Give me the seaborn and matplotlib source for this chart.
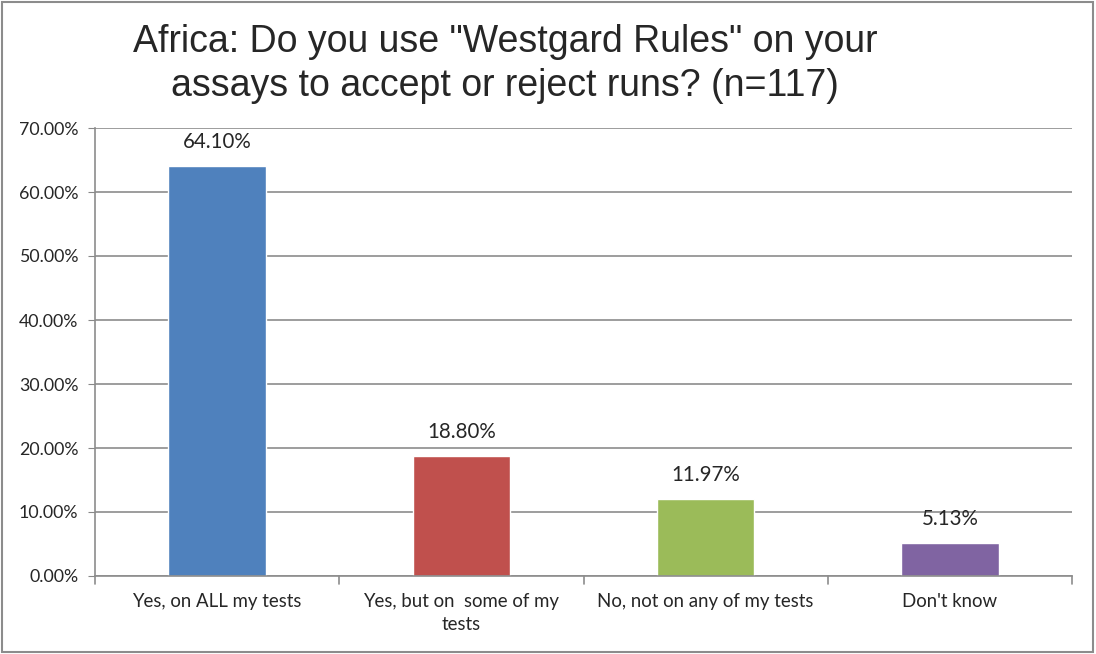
import numpy as np
import pandas as pd
import matplotlib
matplotlib.use("Agg")
import matplotlib.pyplot as plt
import seaborn as sns
from matplotlib.patches import Rectangle

# Dados
categorias = ["Yes, on ALL my tests", "Yes, but on  some of my\ntests",
              "No, not on any of my tests", "Don't know"]
percentuais = [64.10, 18.80, 11.97, 5.13]
cores = ["#4F81BD", "#C0504D", "#9BBB59", "#8064A2"]
ticks_y = [0, 10, 20, 30, 40, 50, 60, 70]

df = pd.DataFrame({"Resposta": categorias, "Percentual": percentuais})

sns.set_style("white")
plt.rcParams["font.family"] = ["Lato", "DejaVu Sans"]

fig = plt.figure(figsize=(10.96, 6.54), dpi=100)
ax = fig.add_axes([95 / 1096, 1 - 576 / 654, (1072 - 95) / 1096, (576 - 128) / 654])

sns.barplot(data=df, x="Resposta", y="Percentual", hue="Resposta", palette=cores,
            width=0.4, legend=False, ax=ax, saturation=1)

ax.set_ylim(0, 70)
ax.set_xlim(-0.5, len(categorias) - 0.5)
ax.set_yticks(ticks_y)
ax.set_yticklabels([f"{v:.2f}%" for v in ticks_y], fontsize=12.8)
ax.set_xticks(range(len(categorias)))
ax.set_xticklabels(categorias, fontsize=13.4, linespacing=1.45)
ax.tick_params(axis="x", length=0, pad=12)
ax.tick_params(axis="y", length=5, color="#888888", direction="out", left=True, pad=7)
ax.set_xlabel("")
ax.set_ylabel("")

# linhas de grade
ax.yaxis.grid(True, color="#8c8c8c", linewidth=1.2)
ax.set_axisbelow(True)
for lado in ["top", "right"]:
    ax.spines[lado].set_visible(False)
for lado in ["left", "bottom"]:
    ax.spines[lado].set_color("#8c8c8c")
    ax.spines[lado].set_linewidth(1.2)

# marcas entre categorias no eixo x
for xb in np.arange(-0.5, len(categorias), 1.0):
    ax.plot([xb, xb], [0, -1.2], color="#8c8c8c", linewidth=1.2, clip_on=False)

# rótulos de dados
for i, v in enumerate(percentuais):
    ax.text(i, v + 2.2, f"{v:.2f}%", ha="center", va="bottom", fontsize=14.8)

fig.text(505 / 1096, 1 - 64 / 654,
         "Africa: Do you use \"Westgard Rules\" on your\nassays to accept or reject runs? (n=117)",
         ha="center", va="center", fontsize=27, family="Liberation Sans", linespacing=1.3)

# borda da figura
fig.patches.append(Rectangle((0.002, 0.003), 0.995, 0.994, transform=fig.transFigure,
                             fill=False, edgecolor="#8c8c8c", linewidth=1.5))

fig.savefig("out.png", dpi=100)
